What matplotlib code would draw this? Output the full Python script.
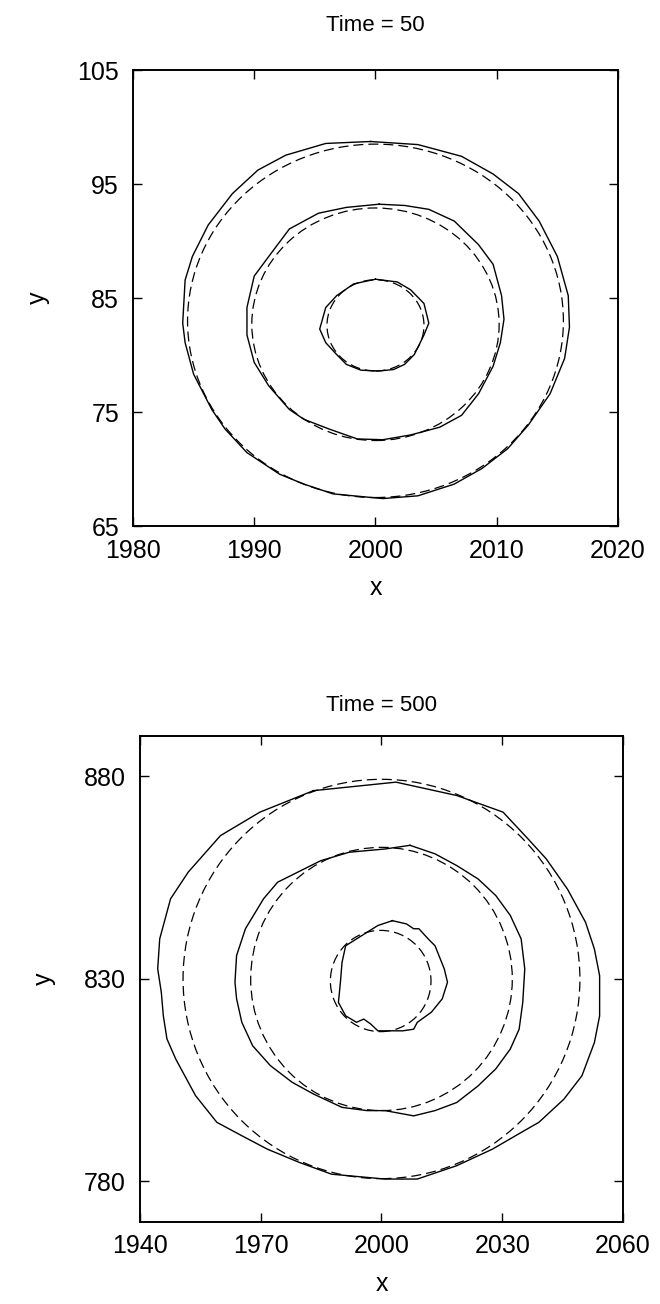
import matplotlib
matplotlib.use("Agg")
import matplotlib.pyplot as plt
from matplotlib.patches import Ellipse

plt.rcParams["font.family"] = ["Liberation Sans", "DejaVu Sans"]

# ---- Time = 50 panel ----
t50_outer_x = [1999.6, 1995.9, 1992.6, 1990.3, 1988.2, 1986.2, 1984.9, 1984.3, 1984.1, 1984.3,
               1985.0, 1986.5, 1987.6, 1989.4, 1992.1, 1994.1, 1996.5, 2000.6, 2003.5, 2006.5,
               2008.8, 2010.9, 2012.6, 2014.4, 2015.6, 2016.0, 2015.9, 2015.0, 2013.5, 2011.8,
               2009.7, 2007.1, 2003.5]
t50_outer_y = [98.73, 98.56, 97.53, 96.22, 94.16, 91.40, 88.65, 86.58, 82.80, 81.08,
               78.32, 75.22, 73.50, 71.44, 69.54, 68.68, 67.82, 67.41, 67.65, 68.68,
               70.06, 71.78, 73.85, 76.60, 79.70, 82.45, 85.21, 88.65, 91.75, 94.16,
               95.88, 97.43, 98.46]
t50_middle_x = [2000.3, 1997.6, 1995.3, 1992.9, 1991.2, 1990.0, 1989.4, 1989.4, 1990.0, 1991.2,
                1992.9, 1994.1, 1996.2, 1998.5, 2000.6, 2002.9, 2005.3, 2007.1, 2008.5, 2009.7,
                2010.3, 2010.6, 2010.4, 2009.7, 2008.5, 2006.5, 2004.4, 2002.4]
t50_middle_y = [93.23, 92.95, 92.44, 91.06, 88.65, 86.93, 84.17, 81.76, 79.35, 77.29,
                75.22, 74.36, 73.50, 72.64, 72.57, 72.99, 73.67, 74.71, 76.60, 79.01,
                81.08, 83.14, 85.21, 87.96, 89.68, 91.75, 92.78, 93.12]
t50_inner_x = [2000.0, 1998.2, 1996.8, 1995.9, 1995.4, 1995.9, 1996.8, 1997.6, 1998.8, 2000.3,
               2001.5, 2002.4, 2003.2, 2004.0, 2004.4, 2004.0, 2002.9, 2001.8]
t50_inner_y = [86.65, 86.24, 85.21, 84.17, 82.28, 81.08, 80.04, 79.18, 78.67, 78.60,
               78.73, 79.18, 80.04, 81.76, 82.80, 84.52, 85.72, 86.41]
t50_circle_cx = [2000.0, 2000.0, 2000.0]
t50_circle_cy = [83.0, 82.7, 82.6]
t50_circle_r = [15.5, 10.2, 4.0]

# ---- Time = 500 panel ----
t500_outer_x = [1983.1, 2003.6, 2018.7, 2030.2, 2036.4, 2040.9, 2046.2, 2050.7, 2052.9, 2054.2,
                2054.2, 2052.9, 2049.8, 2045.3, 2039.1, 2034.7, 2027.6, 2018.7, 2008.9, 2000.9,
                1987.6, 1979.6, 1971.6, 1965.3, 1959.1, 1953.8, 1948.9, 1946.7, 1945.8, 1945.3,
                1944.4, 1944.9, 1947.6, 1952.0, 1960.0, 1969.8]
t500_outer_y = [876.5, 878.6, 875.3, 871.2, 864.6, 859.7, 852.2, 844.0, 837.4, 830.8,
                820.9, 814.3, 806.1, 800.3, 794.6, 792.1, 788.0, 783.9, 780.6, 780.6,
                781.8, 784.7, 788.0, 791.3, 794.6, 801.2, 810.2, 815.2, 820.9, 826.7,
                832.5, 839.9, 849.8, 856.4, 865.4, 871.2]
t500_middle_x = [2007.1, 2000.9, 1992.0, 1984.9, 1974.2, 1970.7, 1966.2, 1964.0, 1963.6, 1964.0,
                 1965.3, 1968.0, 1972.4, 1977.8, 1983.1, 1990.2, 1996.4, 2000.9, 2008.0, 2013.3,
                 2018.7, 2024.0, 2028.4, 2032.0, 2034.2, 2035.1, 2035.6, 2034.7, 2032.0, 2028.4,
                 2024.0, 2018.7, 2013.3]
t500_middle_y = [863.0, 862.1, 861.3, 859.2, 853.9, 849.8, 842.4, 835.8, 829.2, 825.1,
                 819.3, 813.5, 808.6, 804.5, 801.6, 798.3, 797.5, 797.5, 796.2, 797.5,
                 799.5, 803.6, 807.8, 812.7, 817.6, 824.2, 832.5, 839.9, 845.7, 850.6,
                 854.7, 858.0, 860.9]
t500_inner_x = [2002.7, 1999.1, 1993.8, 1991.1, 1990.2, 1989.8, 1989.3, 1991.1, 1993.8, 1995.6,
                1997.3, 1999.1, 2005.3, 2008.0, 2008.9, 2012.4, 2015.1, 2016.4, 2015.6, 2013.3,
                2011.6, 2009.3, 2008.0, 2006.2]
t500_inner_y = [844.4, 843.2, 839.9, 838.2, 834.1, 829.2, 824.2, 820.9, 819.3, 820.1,
                818.9, 817.2, 817.2, 817.6, 819.3, 821.8, 825.1, 829.2, 832.5, 838.2,
                839.9, 842.4, 842.4, 843.6]
t500_circle_cx = [2000.0, 2000.0, 1999.8]
t500_circle_cy = [830.0, 830.0, 829.5]
t500_circle_r = [49.3, 32.5, 12.5]


def closed(xs, ys):
    return list(xs) + [xs[0]], list(ys) + [ys[0]]


def draw_panel(ax, contours, cx, cy, rs, title, title_pad, xlim, ylim, xticks, yticks):
    for xs, ys in contours:
        px, py = closed(xs, ys)
        ax.plot(px, py, color="black", lw=1.0, solid_joinstyle="round")
    for x0, y0, r in zip(cx, cy, rs):
        ax.add_patch(Ellipse((x0, y0), 2 * r, 2 * r, fill=False, edgecolor="black",
                             lw=0.9, linestyle=(0, (8, 4))))
    ax.set_xlim(*xlim)
    ax.set_ylim(*ylim)
    ax.set_xticks(xticks)
    ax.set_yticks(yticks)
    ax.tick_params(direction="in", top=True, right=True, length=6.5, width=1,
                   labelsize=18)
    ax.tick_params(axis="x", pad=9)
    ax.tick_params(axis="y", pad=10)
    for s in ax.spines.values():
        s.set_linewidth(1.4)
    ax.set_title(title, fontsize=16, pad=title_pad)
    ax.set_xlabel("x", fontsize=18, labelpad=10)
    ax.set_ylabel("y", fontsize=18, labelpad=20)


fig = plt.figure(figsize=(6.6, 13.04), dpi=100)
ax1 = fig.add_axes([0.2015, 0.5966, 0.7348, 0.3497])
ax2 = fig.add_axes([0.2121, 0.0629, 0.7318, 0.3727])

draw_panel(ax1,
           [(t50_outer_x, t50_outer_y), (t50_middle_x, t50_middle_y), (t50_inner_x, t50_inner_y)],
           t50_circle_cx, t50_circle_cy, t50_circle_r, "Time = 50", 28,
           (1980, 2020), (65, 105), [1980, 1990, 2000, 2010, 2020], [65, 75, 85, 95, 105])
draw_panel(ax2,
           [(t500_outer_x, t500_outer_y), (t500_middle_x, t500_middle_y), (t500_inner_x, t500_inner_y)],
           t500_circle_cx, t500_circle_cy, t500_circle_r, "Time = 500", 18,
           (1940, 2060), (770, 890), [1940, 1970, 2000, 2030, 2060], [780, 830, 880])

fig.savefig("out.png", dpi=100)
